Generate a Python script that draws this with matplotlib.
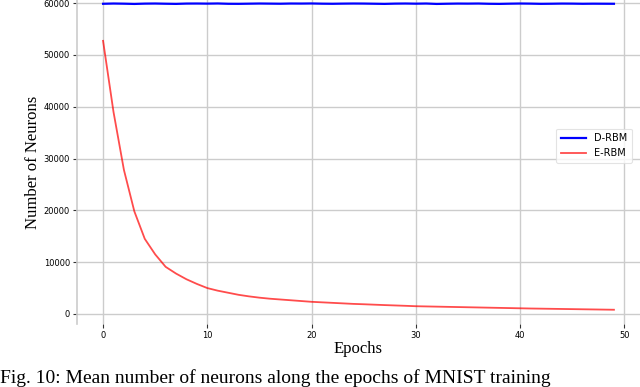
import matplotlib
matplotlib.use("Agg")
import matplotlib.pyplot as plt
import numpy as np

epochs = list(range(50))
d_rbm = [59850, 59900, 59870, 59820, 59880, 59900, 59860, 59830, 59890, 59900,
         59880, 59910, 59850, 59840, 59870, 59900, 59880, 59860, 59900, 59890,
         59910, 59870, 59850, 59880, 59900, 59890, 59860, 59830, 59880, 59900,
         59870, 59900, 59820, 59860, 59890, 59880, 59900, 59850, 59830, 59870,
         59900, 59880, 59840, 59860, 59890, 59880, 59850, 59870, 59860, 59850]
e_rbm = [52700, 39000, 27800, 19800, 14500, 11500, 9100, 7800, 6700, 5800,
         5000, 4500, 4100, 3700, 3400, 3150, 2950, 2800, 2650, 2500,
         2350, 2250, 2150, 2050, 1950, 1880, 1800, 1720, 1650, 1580,
         1500, 1460, 1420, 1380, 1340, 1300, 1260, 1220, 1180, 1140,
         1100, 1060, 1030, 1000, 970, 940, 910, 880, 850, 820]
xticks = [0, 10, 20, 30, 40, 50]
yticks = [0, 10000, 20000, 30000, 40000, 50000, 60000]
caption = "Fig. 10: Mean number of neurons along the epochs of MNIST training"

fig = plt.figure(figsize=(6.4, 3.87), dpi=100)
ax = fig.add_axes([77/640, 63/387, 563/640, 324/387])

ax.plot(epochs, d_rbm, color="#0000ff", lw=1.6, label="D-RBM")
ax.plot(epochs, e_rbm, color="#ff0000", lw=1.3, alpha=0.7, label="E-RBM")

ax.set_xlim(-2.5, 51.5)
ax.set_ylim(-1930, 60580)
ax.set_xticks(xticks)
ax.set_yticks(yticks)
ax.grid(True, color="#cccccc", lw=1.0)
ax.set_axisbelow(True)
for s in ["top", "right", "bottom"]:
    ax.spines[s].set_visible(False)
ax.spines["left"].set_color("#cccccc")
ax.spines["left"].set_linewidth(1.2)
ax.tick_params(axis="both", labelsize=6, length=3, width=0.8, color="#333333", pad=2)

ax.set_xlabel("Epochs", family="Liberation Serif", fontsize=12, labelpad=1)
ax.set_ylabel("Number of Neurons", family="Liberation Serif", fontsize=12, labelpad=2)

leg = ax.legend(loc="center right", bbox_to_anchor=(0.995, 0.55), fontsize=7,
                frameon=True, fancybox=True, handlelength=2.6, borderpad=0.5)
leg.get_frame().set_edgecolor("#dddddd")
leg.get_frame().set_linewidth(0.8)

fig.text(0.0, 4/387, caption, family="Liberation Serif", fontsize=14,
         ha="left", va="baseline")

fig.savefig("out.png", dpi=100)
